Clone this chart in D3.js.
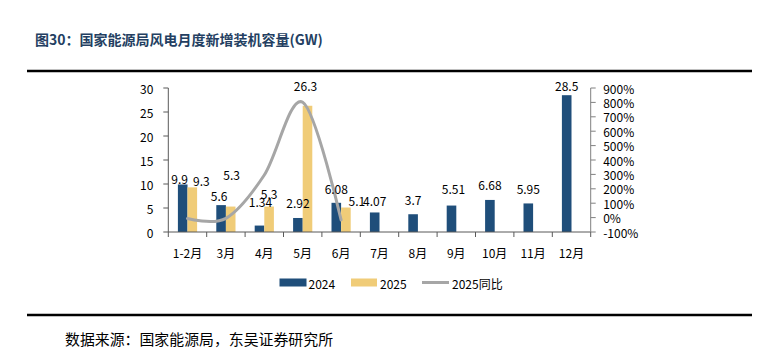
<!DOCTYPE html>
<html><head><meta charset="utf-8">
<script src="https://cdn.jsdelivr.net/npm/d3@7"></script>
<style>
html,body{margin:0;padding:0;background:#fff;}
svg{display:block;font-family:"Noto Sans CJK SC","Noto Sans",sans-serif;}
</style></head>
<body><svg id="c" width="765" height="360"></svg>
<script>
const categories = ["1-2月","3月","4月","5月","6月","7月","8月","9月","10月","11月","12月"];
const values2024 = [9.9,5.6,1.34,2.92,6.08,4.07,3.7,5.51,6.68,5.95,28.5];
const values2025 = [9.3,5.3,5.3,26.3,5.1];
const labels2024 = ["9.9","5.6","1.34","2.92","6.08","4.07","3.7","5.51","6.68","5.95","28.5"];
const labels2025 = ["9.3","5.3","5.3","26.3","5.1"];
const yoy2025 = [-6,-5,296,801,-16];
const leftTicks = [0,5,10,15,20,25,30];
const rightTicks = [-100,0,100,200,300,400,500,600,700,800,900];
const seriesNames = ["2024","2025","2025同比"];

// label placement tweaks (dx, gap above bar top)
const lab24dx = [-3,-2,1,0,0,0,0,2,0,0,0];
const lab24gap = [6,10,24,15,14,12,15,17,15,15,10];
const lab25dx = [9,1,0,-2,11];
const lab25gap = [7,32,13,20,7];

const C24 = "#1F4E7A", C25 = "#F0CC78", CL = "#A6A6A6";
const svg = d3.select("#c");

// title & rules
svg.append("text").attr("x",35).attr("y",39).attr("dominant-baseline","central")
  .attr("font-size",14).attr("font-weight","bold").attr("fill","#243F62")
  .text("图30：国家能源局风电月度新增装机容量(GW)");
svg.append("line").attr("x1",27).attr("x2",752).attr("y1",71).attr("y2",71)
  .attr("stroke","#000").attr("stroke-width",2.5);
svg.append("line").attr("x1",27).attr("x2",752).attr("y1",315).attr("y2",315)
  .attr("stroke","#000").attr("stroke-width",2.5);
svg.append("text").attr("x",65).attr("y",338).attr("dominant-baseline","central")
  .attr("font-size",14.9).attr("fill","#000").text("数据来源：国家能源局，东吴证券研究所");

const x0 = 168.3, x1 = 590.7, yTop = 88, yBot = 232;
const xAxisBand = d3.scaleBand().domain(categories).range([x0,x1]).padding(0);
const x = d3.scaleBand().domain(categories).range([x0,x1]).paddingInner(0.5).paddingOuter(0.25);
const xs = d3.scaleBand().domain(["2024","2025"]).range([0,x.bandwidth()]).padding(0);
const y = d3.scaleLinear().domain([0,30]).range([yBot,yTop]);
const yr = d3.scaleLinear().domain([-100,900]).range([yBot,yTop]);

// bars
svg.append("g").selectAll("rect").data(values2024).join("rect")
  .attr("x",(d,i)=>x(categories[i])+xs("2024")).attr("width",xs.bandwidth())
  .attr("y",d=>y(d)).attr("height",d=>y(0)-y(d)).attr("fill",C24);
svg.append("g").selectAll("rect").data(values2025).join("rect")
  .attr("x",(d,i)=>x(categories[i])+xs("2025")).attr("width",xs.bandwidth())
  .attr("y",d=>y(d)).attr("height",d=>y(0)-y(d)).attr("fill",C25);

// line
const line = d3.line()
  .x((d,i)=>xAxisBand(categories[i])+xAxisBand.bandwidth()/2)
  .y(d=>yr(d)).curve(d3.curveCardinal.tension(0));
svg.append("path").datum(yoy2025).attr("d",line).attr("fill","none")
  .attr("stroke",CL).attr("stroke-width",3).attr("stroke-linecap","round");

// axes
const gx = svg.append("g").attr("transform",`translate(0,${yBot})`);
gx.append("line").attr("x1",x0).attr("x2",x1).attr("stroke","#595959").attr("stroke-width",1);
const edges = categories.map(c=>xAxisBand(c)).concat([x1]);
gx.selectAll("line.t").data(edges).join("line").attr("class","t")
  .attr("x1",d=>d).attr("x2",d=>d).attr("y1",0).attr("y2",5).attr("stroke","#595959");
gx.selectAll("text").data(categories).join("text")
  .attr("x",d=>xAxisBand(d)+xAxisBand.bandwidth()/2).attr("y",20)
  .attr("dominant-baseline","central").attr("text-anchor","middle")
  .attr("font-size",12).attr("fill","#000").text(d=>d);

const gl = svg.append("g");
gl.append("line").attr("x1",x0).attr("x2",x0).attr("y1",yTop).attr("y2",yBot).attr("stroke","#595959");
gl.selectAll("line.t").data(leftTicks).join("line").attr("class","t")
  .attr("x1",x0-5).attr("x2",x0).attr("y1",d=>y(d)).attr("y2",d=>y(d)).attr("stroke","#595959");
gl.selectAll("text").data(leftTicks).join("text")
  .attr("x",x0-15).attr("y",d=>y(d)).attr("dominant-baseline","central").attr("text-anchor","end")
  .attr("font-size",12).attr("fill","#000").text(d=>d);

const gr = svg.append("g");
gr.append("line").attr("x1",x1).attr("x2",x1).attr("y1",yTop).attr("y2",yBot).attr("stroke","#808080");
gr.selectAll("line.t").data(rightTicks).join("line").attr("class","t")
  .attr("x1",x1).attr("x2",x1+5).attr("y1",d=>yr(d)).attr("y2",d=>yr(d)).attr("stroke","#808080");
gr.selectAll("text").data(rightTicks).join("text")
  .attr("x",x1+12.5).attr("y",d=>yr(d)).attr("dominant-baseline","central").attr("text-anchor","start")
  .attr("font-size",12).attr("fill","#000").text(d=>d+"%");

// data labels
svg.append("g").selectAll("text").data(values2024).join("text")
  .attr("x",(d,i)=>x(categories[i])+xs("2024")+xs.bandwidth()/2+lab24dx[i])
  .attr("y",(d,i)=>y(d)-lab24gap[i]).attr("dominant-baseline","central").attr("text-anchor","middle")
  .attr("font-size",12).attr("fill","#000").text((d,i)=>labels2024[i]);
svg.append("g").selectAll("text").data(values2025).join("text")
  .attr("x",(d,i)=>x(categories[i])+xs("2025")+xs.bandwidth()/2+lab25dx[i])
  .attr("y",(d,i)=>y(d)-lab25gap[i]).attr("dominant-baseline","central").attr("text-anchor","middle")
  .attr("font-size",12).attr("fill","#000").text((d,i)=>labels2025[i]);

// legend
const lg = svg.append("g");
lg.append("rect").attr("x",279.5).attr("y",278.5).attr("width",27).attr("height",8).attr("fill",C24);
lg.append("text").attr("x",308.5).attr("y",283).attr("dominant-baseline","central").attr("font-size",12).text(seriesNames[0]);
lg.append("rect").attr("x",351).attr("y",278.5).attr("width",26).attr("height",8).attr("fill",C25);
lg.append("text").attr("x",380).attr("y",283).attr("dominant-baseline","central").attr("font-size",12).text(seriesNames[1]);
lg.append("line").attr("x1",422).attr("x2",449).attr("y1",282.5).attr("y2",282.5).attr("stroke",CL).attr("stroke-width",3);
lg.append("text").attr("x",452).attr("y",283).attr("dominant-baseline","central").attr("font-size",12).text(seriesNames[2]);
</script></body></html>
